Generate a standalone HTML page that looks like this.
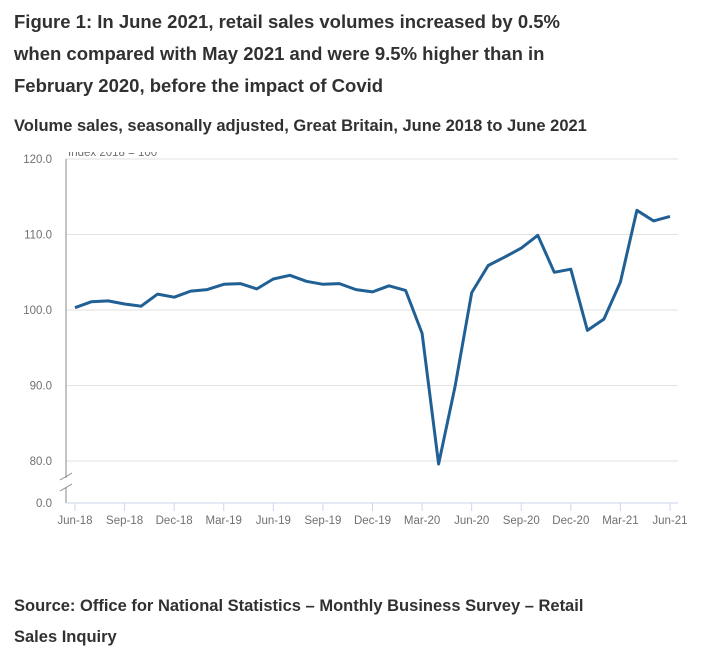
<!DOCTYPE html>
<html><head><meta charset="utf-8">
<style>
body{margin:0;width:704px;height:646px;background:#fff;font-family:"Liberation Sans",sans-serif;color:#323132;position:relative;overflow:hidden}
.t{position:absolute;left:14px;font-weight:bold;white-space:nowrap}
.title{font-size:18.5px}
.sub{font-size:16.5px}
svg{position:absolute;left:0;top:0}
</style></head><body>
<div class="t title" style="top:11px">Figure 1: In June 2021, retail sales volumes increased by 0.5%</div>
<div class="t title" style="top:43px">when compared with May 2021 and were 9.5% higher than in</div>
<div class="t title" style="top:75px">February 2020, before the impact of Covid</div>
<div class="t sub" style="top:117px">Volume sales, seasonally adjusted, Great Britain, June 2018 to June 2021</div>
<div class="t sub" style="top:597px">Source: Office for National Statistics – Monthly Business Survey – Retail</div>
<div class="t sub" style="top:628px">Sales Inquiry</div>
<svg id="chart" width="704" height="646"></svg>
<script>
const months = ["Jun-18","Jul-18","Aug-18","Sep-18","Oct-18","Nov-18","Dec-18","Jan-19","Feb-19","Mar-19","Apr-19","May-19","Jun-19","Jul-19","Aug-19","Sep-19","Oct-19","Nov-19","Dec-19","Jan-20","Feb-20","Mar-20","Apr-20","May-20","Jun-20","Jul-20","Aug-20","Sep-20","Oct-20","Nov-20","Dec-20","Jan-21","Feb-21","Mar-21","Apr-21","May-21","Jun-21"];
const values = [100.3,101.1,101.2,100.8,100.5,102.1,101.7,102.5,102.7,103.4,103.5,102.8,104.1,104.6,103.8,103.4,103.5,102.7,102.4,103.2,102.6,96.9,79.6,89.9,102.3,105.9,107.0,108.2,109.9,105.0,105.4,97.3,98.8,103.7,113.2,111.8,112.4];
const yTicks = [80,90,100,110,120];
const xTickLabels = ["Jun-18","Sep-18","Dec-18","Mar-19","Jun-19","Sep-19","Dec-19","Mar-20","Jun-20","Sep-20","Dec-20","Mar-21","Jun-21"];
const NS="http://www.w3.org/2000/svg", svg=document.getElementById('chart');
const L=66,R=678,x0=75,x1=670,yTop=159,yB=461,base=503;
const xs=i=>x0+(x1-x0)*i/(months.length-1);
const ys=v=>yB-(v-80)*(yB-yTop)/40;
function mk(t,a,p){const e=document.createElementNS(NS,t);for(const k in a)e.setAttribute(k,a[k]);(p||svg).appendChild(e);return e;}
yTicks.forEach(v=>{
  const g=mk('line',{x1:L,x2:R,y1:ys(v),y2:ys(v),stroke:'#e2e2e3','stroke-width':1});
  
  
  const t=mk('text',{x:52,y:ys(v)+4,'text-anchor':'end','font-size':11.5,fill:'#707071','font-family':'Liberation Sans, sans-serif'});
  t.textContent=v.toFixed(1);
  
  
});
const z=mk('text',{x:52,y:base+4,'text-anchor':'end','font-size':11.5,fill:'#707071','font-family':'Liberation Sans, sans-serif'});z.textContent='0.0';


const ya=mk('path',{d:`M${L} ${yTop}V${base}`,stroke:'#8a8a8a','stroke-width':1,fill:'none'});


const br=mk('path',{d:`M${L-6} ${480}L${L+6} ${473}M${L-6} ${491}L${L+6} ${484}`,stroke:'#8a8a8a','stroke-width':1,fill:'none'});
mk('rect',{x:L-1,y:478,width:3,height:9,fill:'#fff'});
svg.appendChild(br);


const xa=mk('line',{x1:L,x2:R,y1:base,y2:base,stroke:'#ccd6eb','stroke-width':1});


xTickLabels.forEach(lab=>{
  const i=months.indexOf(lab),x=xs(i);
  mk('line',{x1:x,x2:x,y1:base,y2:base+8,stroke:'#ccd6eb'});
  const t=mk('text',{x:x,y:base+21,'text-anchor':'middle','font-size':11.5,fill:'#707071','font-family':'Liberation Sans, sans-serif'});
  t.textContent=lab;
  
  
});
const un=mk('text',{x:68,y:156,'font-size':11.5,fill:'#707071','font-family':'Liberation Sans, sans-serif'});un.textContent='Index 2018 = 100';


mk('rect',{x:66,y:140,width:120,height:12,fill:'#fff'});
const ln=mk('path',{d:values.map((v,i)=>(i?'L':'M')+xs(i).toFixed(1)+' '+ys(v).toFixed(1)).join(''),stroke:'#206095','stroke-width':3,fill:'none','stroke-linejoin':'round'});


</script>
</body></html>
